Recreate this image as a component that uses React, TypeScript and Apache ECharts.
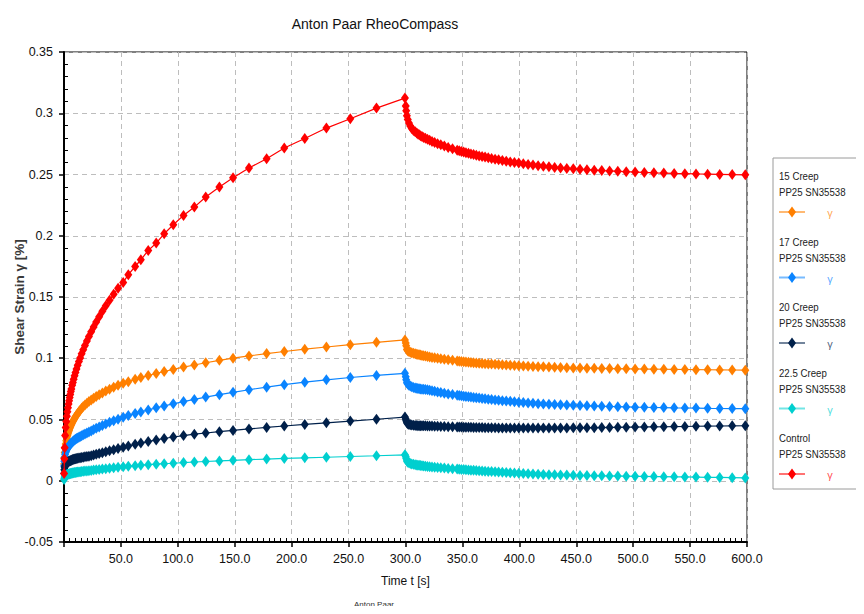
import React, { useEffect, useRef } from "react";
import * as echarts from "echarts";

// ---- time samples [s] ----
const creepTime = [0.1, 0.3, 0.6, 1, 1.5, 2, 2.5, 3, 3.5, 4, 4.5, 5, 5.5, 6, 6.5, 7.2, 7.8, 8.5, 9.3, 10.1, 11, 12, 13.1, 14.2, 15.5, 16.9, 18.4, 20.1, 21.9, 23.9, 26, 28.3, 30.9, 33.7, 36.7, 40, 43.6, 47.5, 52, 56.5, 62.5, 67.5, 74, 81, 88, 96, 105, 114.5, 124.5, 136.5, 148.5, 162.5, 178, 193.5, 211.5, 230.5, 251.5, 274.5, 299.5];
const recoveryTime = [300.2, 300.6, 301.2, 302, 303, 304.2, 305.5, 307, 308.5, 309.9, 310.9, 312, 313.2, 314.5, 315.9, 317.5, 319.3, 321.2, 323.3, 325.6, 328.2, 331, 334.1, 337.5, 341.3, 345.4, 347.2, 349.1, 351.1, 353.1, 355.3, 357.5, 359.8, 362.2, 364.7, 367.3, 369.9, 372.7, 375.6, 378.7, 381.8, 385.1, 388.5, 392, 395.7, 399.5, 403.5, 407.7, 412, 416.5, 421.1, 426, 431, 436.2, 441.7, 447.4, 453.3, 459.4, 465.8, 472.4, 479.3, 486.5, 493.9, 501.7, 509.8, 518.2, 526.9, 536, 545.4, 555.2, 565.4, 576, 587, 598.5];

// ---- shear strain [%] ----
const creep15 = [0.0137, 0.0188, 0.023, 0.0267, 0.03, 0.0326, 0.0348, 0.0367, 0.0384, 0.0399, 0.0413, 0.0426, 0.0438, 0.0449, 0.0459, 0.0473, 0.0484, 0.0496, 0.051, 0.0522, 0.0535, 0.0549, 0.0563, 0.0576, 0.0591, 0.0606, 0.0619, 0.0632, 0.0646, 0.0659, 0.0673, 0.0687, 0.0702, 0.0717, 0.0732, 0.0747, 0.0763, 0.0779, 0.0795, 0.0809, 0.0828, 0.0842, 0.0859, 0.0876, 0.0892, 0.0909, 0.0928, 0.0945, 0.0963, 0.0983, 0.1001, 0.1019, 0.1038, 0.1055, 0.1074, 0.1092, 0.1111, 0.113, 0.115];
const recovery15 = [0.1125, 0.1103, 0.1072, 0.1062, 0.1055, 0.1049, 0.1044, 0.104, 0.1036, 0.1033, 0.1031, 0.1028, 0.1026, 0.1023, 0.1021, 0.1018, 0.1014, 0.1011, 0.1007, 0.1004, 0.1, 0.0996, 0.0992, 0.0987, 0.0983, 0.0978, 0.0975, 0.0973, 0.0971, 0.0969, 0.0967, 0.0965, 0.0963, 0.0961, 0.0959, 0.0958, 0.0956, 0.0954, 0.0953, 0.0951, 0.0949, 0.0947, 0.0945, 0.0943, 0.0941, 0.0939, 0.0937, 0.0935, 0.0933, 0.0931, 0.093, 0.0928, 0.0926, 0.0924, 0.0923, 0.0921, 0.092, 0.0919, 0.0918, 0.0917, 0.0916, 0.0915, 0.0914, 0.0913, 0.0912, 0.0911, 0.091, 0.0909, 0.0908, 0.0907, 0.0906, 0.0905, 0.0904, 0.0903];

const creep17 = [0.012, 0.016, 0.019, 0.0215, 0.0232, 0.0245, 0.0256, 0.0265, 0.0273, 0.028, 0.0287, 0.0293, 0.0299, 0.0304, 0.0309, 0.0315, 0.032, 0.0326, 0.0332, 0.0338, 0.0344, 0.035, 0.0356, 0.0362, 0.0368, 0.0375, 0.0382, 0.039, 0.0398, 0.0407, 0.0418, 0.0428, 0.0439, 0.0451, 0.0464, 0.0477, 0.049, 0.0503, 0.0518, 0.0532, 0.0549, 0.0562, 0.0578, 0.0595, 0.0611, 0.0628, 0.0646, 0.0664, 0.0683, 0.0703, 0.0722, 0.0743, 0.0764, 0.0784, 0.0805, 0.0824, 0.0843, 0.086, 0.0877];
const recovery17 = [0.085, 0.0825, 0.08, 0.0789, 0.078, 0.0773, 0.0767, 0.0762, 0.0758, 0.0755, 0.0753, 0.0751, 0.0749, 0.0747, 0.0746, 0.0744, 0.0742, 0.0738, 0.0734, 0.073, 0.0725, 0.072, 0.0715, 0.0709, 0.0704, 0.0698, 0.0695, 0.0693, 0.069, 0.0688, 0.0685, 0.0683, 0.068, 0.0677, 0.0675, 0.0672, 0.0669, 0.0666, 0.0663, 0.066, 0.0657, 0.0654, 0.0651, 0.0648, 0.0645, 0.0641, 0.0638, 0.0635, 0.0632, 0.0629, 0.0627, 0.0624, 0.0622, 0.062, 0.0618, 0.0616, 0.0614, 0.0612, 0.061, 0.0608, 0.0606, 0.0605, 0.0603, 0.0601, 0.06, 0.0598, 0.0597, 0.0595, 0.0594, 0.0593, 0.0591, 0.059, 0.0589, 0.0588];

const creep20 = [0.006, 0.009, 0.011, 0.0123, 0.0133, 0.014, 0.0146, 0.015, 0.0154, 0.0157, 0.016, 0.0162, 0.0164, 0.0166, 0.0168, 0.0171, 0.0173, 0.0175, 0.0177, 0.0179, 0.0181, 0.0183, 0.0185, 0.0187, 0.019, 0.0192, 0.0195, 0.0197, 0.02, 0.0205, 0.021, 0.0216, 0.0222, 0.0229, 0.0237, 0.0245, 0.0254, 0.0263, 0.0274, 0.0284, 0.0297, 0.0308, 0.032, 0.0333, 0.0345, 0.0357, 0.0369, 0.038, 0.039, 0.0401, 0.0411, 0.0423, 0.0435, 0.0447, 0.046, 0.0473, 0.0487, 0.0502, 0.052];
const recovery20 = [0.0505, 0.049, 0.0473, 0.0465, 0.046, 0.0457, 0.0455, 0.0453, 0.0452, 0.0451, 0.045, 0.045, 0.0449, 0.0449, 0.0448, 0.0448, 0.0447, 0.0446, 0.0446, 0.0445, 0.0444, 0.0443, 0.0442, 0.0441, 0.044, 0.0439, 0.0438, 0.0438, 0.0437, 0.0437, 0.0436, 0.0436, 0.0435, 0.0435, 0.0434, 0.0434, 0.0433, 0.0433, 0.0432, 0.0432, 0.0431, 0.0431, 0.0431, 0.043, 0.043, 0.043, 0.043, 0.043, 0.043, 0.043, 0.043, 0.043, 0.0431, 0.0431, 0.0431, 0.0432, 0.0432, 0.0433, 0.0433, 0.0434, 0.0435, 0.0436, 0.0437, 0.0438, 0.0439, 0.044, 0.0441, 0.0442, 0.0443, 0.0445, 0.0446, 0.0447, 0.0448, 0.0449];

const creep225 = [0.001, 0.002, 0.003, 0.0036, 0.0042, 0.0046, 0.0049, 0.0051, 0.0053, 0.0055, 0.0056, 0.0058, 0.0059, 0.006, 0.0061, 0.0063, 0.0064, 0.0065, 0.0067, 0.0068, 0.0069, 0.0071, 0.0072, 0.0074, 0.0075, 0.0077, 0.0079, 0.008, 0.0082, 0.0084, 0.0087, 0.0089, 0.0092, 0.0095, 0.0098, 0.0102, 0.0106, 0.011, 0.0114, 0.0118, 0.0123, 0.0127, 0.0131, 0.0135, 0.0139, 0.0143, 0.0148, 0.0153, 0.0157, 0.0162, 0.0167, 0.0172, 0.0177, 0.0182, 0.0187, 0.0192, 0.0198, 0.0204, 0.0212];
const recovery225 = [0.0198, 0.0182, 0.0162, 0.0152, 0.0146, 0.0141, 0.0137, 0.0134, 0.0131, 0.0129, 0.0127, 0.0126, 0.0124, 0.0122, 0.0121, 0.0119, 0.0117, 0.0115, 0.0113, 0.0111, 0.0109, 0.0106, 0.0104, 0.0101, 0.0098, 0.0095, 0.0093, 0.0092, 0.0091, 0.0089, 0.0088, 0.0086, 0.0085, 0.0083, 0.0081, 0.008, 0.0078, 0.0076, 0.0075, 0.0073, 0.0071, 0.0069, 0.0067, 0.0065, 0.0063, 0.0061, 0.0059, 0.0057, 0.0055, 0.0053, 0.0051, 0.005, 0.0048, 0.0047, 0.0046, 0.0044, 0.0043, 0.0042, 0.0041, 0.004, 0.0039, 0.0038, 0.0037, 0.0036, 0.0035, 0.0034, 0.0033, 0.0032, 0.0031, 0.003, 0.0028, 0.0027, 0.0025, 0.0023];

const creepControl = [0.006, 0.018, 0.027, 0.037, 0.0435, 0.0484, 0.0526, 0.0563, 0.0596, 0.0626, 0.0654, 0.068, 0.0705, 0.0728, 0.075, 0.0779, 0.0802, 0.0829, 0.0857, 0.0884, 0.0912, 0.0942, 0.0973, 0.1003, 0.1036, 0.107, 0.1104, 0.1141, 0.1178, 0.1217, 0.1256, 0.1296, 0.1339, 0.1383, 0.1428, 0.1474, 0.1522, 0.1572, 0.1619, 0.1682, 0.1749, 0.1804, 0.188, 0.194, 0.2016, 0.209, 0.2166, 0.2234, 0.2316, 0.2398, 0.2473, 0.2553, 0.2629, 0.2716, 0.2794, 0.2879, 0.2955, 0.3042, 0.3124];
const recoveryControl = [0.306, 0.302, 0.298, 0.295, 0.292, 0.2895, 0.2875, 0.286, 0.2848, 0.2838, 0.2831, 0.2824, 0.2817, 0.281, 0.2803, 0.2795, 0.2787, 0.2779, 0.277, 0.2761, 0.2752, 0.2742, 0.2732, 0.2721, 0.271, 0.2698, 0.2693, 0.2688, 0.2683, 0.2678, 0.2673, 0.2668, 0.2663, 0.2658, 0.2652, 0.2647, 0.2642, 0.2636, 0.2631, 0.2625, 0.262, 0.2614, 0.2609, 0.2603, 0.2598, 0.2593, 0.2587, 0.2582, 0.2577, 0.2572, 0.2567, 0.2563, 0.2558, 0.2554, 0.255, 0.2546, 0.2542, 0.2539, 0.2535, 0.2532, 0.2529, 0.2526, 0.2523, 0.252, 0.2517, 0.2514, 0.2512, 0.2509, 0.2507, 0.2505, 0.2503, 0.2501, 0.2499, 0.2497];

const seriesNames = ["15 Creep", "17 Creep", "20 Creep", "22.5 Creep", "Control"];
const instrument = "PP25 SN35538";
const seriesColors = ["#FF7F00", "#0A84FF", "#00204A", "#00CFCF", "#FF0000"];
const seriesCreep = [creep15, creep17, creep20, creep225, creepControl];
const seriesRecovery = [recovery15, recovery17, recovery20, recovery225, recoveryControl];

const FONT_R = "'Liberation Sans', Arial, sans-serif";

function hexA(hex: string, a: number) {
  const r = parseInt(hex.slice(1, 3), 16);
  const g = parseInt(hex.slice(3, 5), 16);
  const b = parseInt(hex.slice(5, 7), 16);
  return `rgba(${r},${g},${b},${a})`;
}

export default function App() {
  const ref = useRef<HTMLDivElement>(null);
  useEffect(() => {
    if (!ref.current) return;
    const chart = echarts.init(ref.current, null, { renderer: "svg" });
    const allTime = creepTime.concat(recoveryTime);

    const series = seriesNames.map((name, i) => {
      const vals = seriesCreep[i].concat(seriesRecovery[i]);
      return {
        name,
        type: "line",
        xAxisIndex: 0,
        yAxisIndex: 0,
        data: allTime.map((t, k) => [t, vals[k]]),
        symbol: "diamond",
        symbolSize: [8, 11],
        showSymbol: true,
        color: seriesColors[i],
        lineStyle: { width: 1.2, color: seriesColors[i] },
        itemStyle: { color: seriesColors[i] },
        z: 3 + i,
      };
    });

    const legendEls: any[] = [
      {
        type: "rect",
        shape: { x: 773, y: 158, width: 88, height: 331 },
        style: { fill: "#fff", stroke: "#9a9a9a", lineWidth: 1 },
      },
    ];
    seriesNames.forEach((name, i) => {
      const by = 176 + i * 65.5;
      const c = seriesColors[i];
      legendEls.push(
        { type: "text", x: 779, y: by, scaleX: 0.84, style: { text: name, x: 0, y: 0, fontSize: 11.5, fontFamily: FONT_R, fill: "#222", verticalAlign: "middle", align: "left" } },
        { type: "text", x: 779, y: by + 16, scaleX: 0.84, style: { text: instrument, x: 0, y: 0, fontSize: 11.5, fontFamily: FONT_R, fill: "#222", verticalAlign: "middle", align: "left" } },
        { type: "line", shape: { x1: 779, y1: by + 36, x2: 805, y2: by + 36 }, style: { stroke: hexA(c, 0.55), lineWidth: 2 } },
        { type: "polygon", shape: { points: [[792, by + 30.5], [796, by + 36], [792, by + 41.5], [788, by + 36]] }, style: { fill: c } },
        { type: "text", x: 830, y: by + 37, style: { text: "γ", x: 0, y: 0, fontSize: 11, fontFamily: FONT_R, fill: hexA(c, 0.7), verticalAlign: "middle", align: "center" } }
      );
    });

    const option: any = {
      animation: false,
      backgroundColor: "#fff",
      textStyle: { fontFamily: FONT_R },
      title: {
        text: "Anton Paar RheoCompass",
        left: 370,
        top: 12,
        textAlign: "center",
        textStyle: { fontSize: 14, fontWeight: "normal", color: "#111", fontFamily: FONT_R },
      },
      grid: {
        left: 64,
        right: 117,
        top: 52,
        bottom: 72,
        show: true,
        borderColor: "#000",
        borderWidth: 1,
        outerBoundsMode: "none",
      },
      xAxis: [
        {
          type: "value",
          min: 0,
          max: 600,
          interval: 50,
          name: "Time t [s]",
          nameLocation: "middle",
          nameGap: 33,
          nameMoveOverlap: false,
          nameTextStyle: { fontSize: 12, color: "#111", fontFamily: FONT_R },
          axisLine: { show: true, onZero: false, lineStyle: { color: "#000", width: 2 } },
          axisTick: { show: true, inside: false, length: 5, lineStyle: { color: "#000", width: 1.5 } },
          minorTick: { show: false },
          axisLabel: {
            margin: 10,
            fontSize: 12.5,
            color: "#111",
            fontFamily: FONT_R,
            formatter: (v: number) => (v === 0 ? "" : v.toFixed(1)),
          },
          splitLine: { show: true, lineStyle: { color: "#bdbdbd", type: [5, 4], width: 1 } },
        },
        {
          type: "value",
          min: 0,
          max: 600,
          interval: 50,
          position: "bottom",
          axisLine: { show: false, onZero: false },
          axisTick: { show: false, inside: true },
          minorTick: { show: true, splitNumber: 10, length: 4, lineStyle: { color: "#000", width: 1 } },
          axisLabel: { show: false },
          splitLine: { show: false },
        },
      ],
      yAxis: [
        {
          type: "value",
          min: -0.05,
          max: 0.35,
          interval: 0.05,
          name: "Shear Strain γ [%]",
          nameLocation: "middle",
          nameGap: 38,
          nameRotate: 90,
          nameMoveOverlap: false,
          nameTextStyle: { fontSize: 13.5, fontWeight: "bold", color: "#3a3a3a", fontFamily: FONT_R },
          axisLine: { show: true, onZero: false, lineStyle: { color: "#000", width: 2 } },
          axisTick: { show: true, inside: false, length: 5, lineStyle: { color: "#000", width: 1.5 } },
          minorTick: { show: false },
          axisLabel: {
            margin: 11,
            fontSize: 12.5,
            color: "#111",
            fontFamily: FONT_R,
            formatter: (v: number) => String(parseFloat(v.toFixed(2))),
          },
          splitLine: { show: true, lineStyle: { color: "#bdbdbd", type: [5, 4], width: 1 } },
        },
        {
          type: "value",
          min: -0.05,
          max: 0.35,
          interval: 0.05,
          position: "left",
          axisLine: { show: false, onZero: false },
          axisTick: { show: false, inside: true },
          minorTick: { show: true, splitNumber: 5, length: 4, lineStyle: { color: "#000", width: 1 } },
          axisLabel: { show: false },
          splitLine: { show: false },
        },
      ],
      series,
      graphic: [
        ...legendEls,
        {
          type: "text",
          x: 374,
          y: 604,
          style: { text: "Anton Paar", x: 0, y: 0, fontSize: 8, fontFamily: FONT_R, fill: "#333", align: "center", verticalAlign: "middle" },
        },
      ],
    };
    chart.setOption(option);
    return () => chart.dispose();
  }, []);

  return <div ref={ref} style={{ width: 864, height: 614, margin: -8 }} />;
}
